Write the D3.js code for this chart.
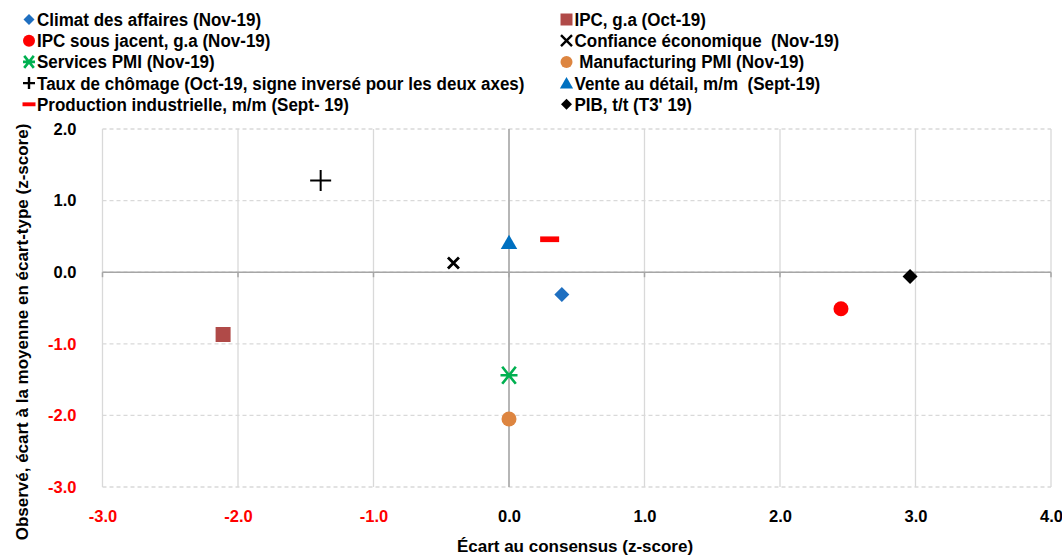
<!DOCTYPE html>
<html>
<head>
<meta charset="utf-8">
<script src="https://cdn.jsdelivr.net/npm/d3@7"></script>
<style>
  body { margin: 0; background: #fff; }
  svg text { font-family: "Liberation Sans Narrow", "Arial Narrow", "Liberation Sans", Arial, sans-serif; font-weight: bold; }
</style>
</head>
<body>
<div id="chart"></div>
<script>
// Series (legend order, row by row)
const labels = [
    "Climat des affaires (Nov-19)",
    "IPC, g.a (Oct-19)",
    "IPC sous jacent, g.a (Nov-19)",
    "Confiance économique  (Nov-19)",
    "Services PMI (Nov-19)",
    " Manufacturing PMI (Nov-19)",
    "Taux de chômage (Oct-19, signe inversé pour les deux axes)",
    "Vente au détail, m/m  (Sept-19)",
    "Production industrielle, m/m (Sept- 19)",
    "PIB, t/t (T3' 19)"
];
const ecartConsensus = [0.39, -2.11, 2.45, -0.41, 0.0, 0.0, -1.39, 0.0, 0.30, 2.96];
const observe = [-0.31, -0.87, -0.51, 0.13, -1.44, -2.05, 1.28, 0.42, 0.46, -0.06];
const shapes = ["diamond", "square", "circle", "x", "asterisk", "circle", "plus", "triangle", "dash", "diamond"];
const colors = ["#1f6fc0", "#b04a48", "#ff0000", "#000000", "#00b050", "#dd8540", "#000000", "#0070c0", "#ff0000", "#000000"];

const xTicks = [-3, -2, -1, 0, 1, 2, 3, 4];
const yTicks = [-3, -2, -1, 0, 1, 2];

const width = 1062, height = 555;
const margin = { top: 129, right: 11, bottom: 68, left: 102.5 };

const svg = d3.select("#chart").append("svg")
    .attr("width", width)
    .attr("height", height);

const x = d3.scaleLinear().domain([-3, 4]).range([margin.left, width - margin.right]);
const y = d3.scaleLinear().domain([-3, 2]).range([height - margin.bottom, margin.top]);
const fmt = d => d.toFixed(1); // plain hyphen for negatives, like the original

// marker path generator, s = nominal size in px
function markerPath(shape, s) {
    const h = s / 2;
    switch (shape) {
        case "diamond": return `M0,${-h}L${h},0L0,${h}L${-h},0Z`;
        case "square": return `M${-h},${-h}H${h}V${h}H${-h}Z`;
        case "circle": return d3.symbol(d3.symbolCircle, Math.PI * h * h)();
        case "triangle": return `M0,${-h}L${h * 1.1},${h * 0.9}L${-h * 1.1},${h * 0.9}Z`;
        case "x": return `M${-h},${-h}L${h},${h}M${h},${-h}L${-h},${h}`;
        case "plus": return `M${-h},0H${h}M0,${-h}V${h}`;
        case "asterisk": return `M${-h * 0.8},${-h}L${h * 0.8},${h}M${h * 0.8},${-h}L${-h * 0.8},${h}M${-h},0H${h}`;
        case "dash": return `M${-h},${-s * 0.15}H${h}V${s * 0.15}H${-h}Z`;
    }
}
const isStroke = sh => sh === "x" || sh === "plus" || sh === "asterisk";

// plot sizes
const plotSize = { diamond: 15, square: 15, circle: 15, triangle: 15, x: 11, plus: 21, asterisk: 17, dash: 19 };
const plotStroke = { x: 2.8, plus: 2, asterisk: 2.6 };
const legSize = { diamond: 11, square: 12, circle: 12, triangle: 12, x: 11, plus: 12, asterisk: 12, dash: 13 };
const legStroke = { x: 2.4, plus: 2.4, asterisk: 2.6 };

// --- grid ---
const grid = svg.append("g");
grid.selectAll(".vgrid").data(xTicks).enter().append("line")
    .attr("x1", d => x(d)).attr("x2", d => x(d))
    .attr("y1", y(2)).attr("y2", y(-3))
    .attr("stroke", "#d9d9d9").attr("stroke-width", 1.3);
grid.selectAll(".hgrid").data(yTicks).enter().append("line")
    .attr("x1", x(-3)).attr("x2", x(4))
    .attr("y1", d => y(d)).attr("y2", d => y(d))
    .attr("stroke", "#d9d9d9").attr("stroke-width", 1.3)
    .attr("stroke-dasharray", "4,3");

// --- zero axes ---
svg.append("line")
    .attr("x1", x(-3)).attr("x2", x(4))
    .attr("y1", y(0)).attr("y2", y(0))
    .attr("stroke", "#a6a6a6").attr("stroke-width", 1.5);
svg.append("line")
    .attr("x1", x(0)).attr("x2", x(0))
    .attr("y1", y(2)).attr("y2", y(-3))
    .attr("stroke", "#a6a6a6").attr("stroke-width", 1.5);
svg.append("g").selectAll("line").data(xTicks).enter().append("line")
    .attr("x1", d => x(d)).attr("x2", d => x(d))
    .attr("y1", y(0)).attr("y2", y(0) + 5)
    .attr("stroke", "#a6a6a6").attr("stroke-width", 1.5);

// --- tick labels ---
const xAxis = svg.append("g")
    .attr("transform", `translate(0, ${y(-3) + 20})`)
    .call(d3.axisBottom(x).tickValues(xTicks).tickFormat(fmt).tickSize(0));
xAxis.select(".domain").remove();
xAxis.selectAll("text")
    .attr("font-size", 16.5)
    .attr("fill", d => d < 0 ? "#ff0000" : "#000");

const yAxis = svg.append("g")
    .attr("transform", `translate(${x(-3) - 23}, 0)`)
    .call(d3.axisLeft(y).tickValues(yTicks).tickFormat(fmt).tickSize(0));
yAxis.select(".domain").remove();
yAxis.selectAll("text")
    .attr("font-size", 16.5)
    .attr("fill", d => d < 0 ? "#ff0000" : "#000");
svg.selectAll(".tick text").attr("font-family", null);

// --- axis titles ---
svg.append("text")
    .attr("x", 575).attr("y", 552)
    .attr("text-anchor", "middle")
    .attr("font-size", 17)
    .text("Écart au consensus (z-score)");
svg.append("text")
    .attr("transform", `translate(28, 332) rotate(-90)`)
    .attr("text-anchor", "middle")
    .attr("font-size", 17)
    .text("Observé, écart à la moyenne en écart-type (z-score)");

// --- points ---
const pts = svg.append("g");
labels.forEach((lab, i) => {
    const sh = shapes[i];
    pts.append("path")
        .attr("transform", `translate(${x(ecartConsensus[i])}, ${y(observe[i])})`)
        .attr("d", markerPath(sh, plotSize[sh]))
        .attr("fill", isStroke(sh) ? "none" : colors[i])
        .attr("stroke", isStroke(sh) ? colors[i] : "none")
        .attr("stroke-width", plotStroke[sh] || 0);
});

// --- legend (2 columns, row-major) ---
const legCols = [29, 566.5];
const legRow0 = 19.5, legRowH = 21.2;
const legend = svg.append("g");
labels.forEach((lab, i) => {
    const sh = shapes[i];
    const cx = legCols[i % 2];
    const cy = legRow0 + Math.floor(i / 2) * legRowH;
    legend.append("path")
        .attr("transform", `translate(${cx}, ${cy})`)
        .attr("d", markerPath(sh, legSize[sh]))
        .attr("fill", isStroke(sh) ? "none" : colors[i])
        .attr("stroke", isStroke(sh) ? colors[i] : "none")
        .attr("stroke-width", legStroke[sh] || 0);
    legend.append("text")
        .attr("transform", `translate(${cx + 8}, ${cy + 6.5}) scale(0.92, 1)`)
        .attr("font-size", 18.5)
        .attr("xml:space", "preserve")
        .style("white-space", "pre")
        .text(lab);
});
</script>
</body>
</html>
